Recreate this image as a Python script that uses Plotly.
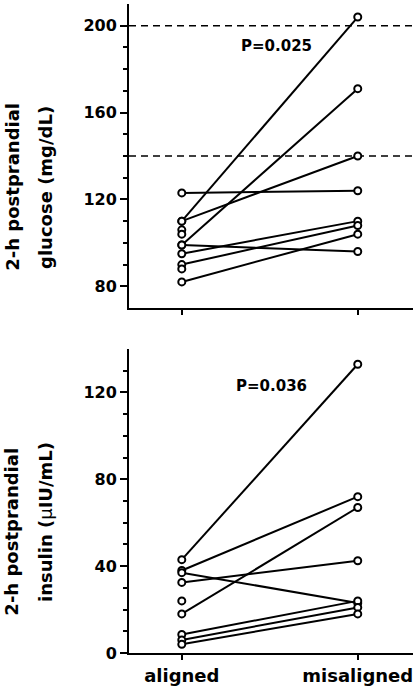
import plotly.graph_objects as go

# ---- data ----
groups = ["aligned", "misaligned"]

glucose_aligned = [123, 110, 110, 99, 99, 95, 90, 82, 106, 104, 88]
glucose_misaligned = [124, 204, 140, 171, 96, 110, 108, 104, None, None, None]

insulin_aligned = [43, 38, 37, 32.5, 18, 8.5, 6, 4, 24]
insulin_misaligned = [133, 72, 23, 42.5, 67, 24, 21, 18, None]

glucose_thresholds = [200, 140]
p_glucose = "P=0.025"
p_insulin = "P=0.036"

glucose_ticks = [80, 120, 160, 200]
glucose_minor = [90, 100, 110, 130, 140, 150, 170, 180, 190]
insulin_ticks = [0, 40, 80, 120]
insulin_minor = [10, 20, 30, 50, 60, 70, 90, 100, 110, 130]

FONT = "DejaVu Sans"


def pair_lines(a_vals, m_vals):
    xs, ys = [], []
    for a, m in zip(a_vals, m_vals):
        if a is None or m is None:
            continue
        xs += [0, 1, None]
        ys += [a, m, None]
    return xs, ys


def points(a_vals, m_vals):
    xs, ys = [], []
    for v in a_vals:
        if v is not None:
            xs.append(0)
            ys.append(v)
    for v in m_vals:
        if v is not None:
            xs.append(1)
            ys.append(v)
    return xs, ys


fig = go.Figure()

for (a_vals, m_vals, xa, ya) in [
    (glucose_aligned, glucose_misaligned, "x", "y"),
    (insulin_aligned, insulin_misaligned, "x2", "y2"),
]:
    lx, ly = pair_lines(a_vals, m_vals)
    fig.add_trace(go.Scatter(x=lx, y=ly, mode="lines",
                             line=dict(color="black", width=2),
                             xaxis=xa, yaxis=ya, showlegend=False,
                             hoverinfo="skip"))
    px, py = points(a_vals, m_vals)
    fig.add_trace(go.Scatter(x=px, y=py, mode="markers",
                             marker=dict(symbol="circle", size=7, color="white",
                                         line=dict(color="black", width=2)),
                             xaxis=xa, yaxis=ya, showlegend=False,
                             cliponaxis=False))

for t in glucose_thresholds:
    fig.add_shape(type="line", xref="x domain", yref="y", x0=0, x1=1, y0=t, y1=t,
                  line=dict(color="black", width=1.5, dash="7px,5px"), layer="below")

xrange = [-0.30, 1.314]
axis_common = dict(showline=True, linecolor="black", linewidth=2, ticks="outside",
                   tickcolor="black", tickwidth=2, showgrid=False, zeroline=False)

fig.update_layout(
    width=416, height=688,
    margin=dict(l=129, r=3, t=4, b=35),
    paper_bgcolor="white", plot_bgcolor="white",
    font=dict(family=FONT, color="black"),
    xaxis=dict(domain=[0, 1], anchor="y", range=xrange, tickvals=[0, 1],
               ticktext=groups, showticklabels=False, ticklen=5, **axis_common),
    yaxis=dict(domain=[0.5316, 1], anchor="x", range=[70, 210], tickvals=glucose_ticks,
               ticklen=7, tickfont=dict(size=16, family=FONT, weight="bold"),
               minor=dict(tickvals=glucose_minor, ticklen=4, tickwidth=1.5,
                          tickcolor="black", ticks="outside"),
               **axis_common),
    xaxis2=dict(domain=[0, 1], anchor="y2", range=xrange, tickvals=[0, 1],
                ticktext=groups, ticklen=5,
                tickfont=dict(size=18, family=FONT, weight="bold"), **axis_common),
    yaxis2=dict(domain=[0, 0.4684], anchor="x2", range=[0, 140], tickvals=insulin_ticks,
                ticklen=7, tickfont=dict(size=16, family=FONT, weight="bold"),
                minor=dict(tickvals=insulin_minor, ticklen=4, tickwidth=1.5,
                           tickcolor="black", ticks="outside"),
                **axis_common),
)

ann_font = dict(family=FONT, size=15, color="black", weight="bold")
title_font = dict(family=FONT, size=18, color="black", weight="bold")

annotations = [
    dict(text=p_glucose, x=0.521, y=0.936, font=ann_font),
    dict(text=p_insulin, x=0.502, y=0.411, font=ann_font),
    dict(text="2-h postprandial", x=-0.413, y=0.718, textangle=-90, font=title_font),
    dict(text="glucose (mg/dL)", x=-0.296, y=0.718, textangle=-90, font=title_font),
    dict(text="2-h postprandial", x=-0.412, y=0.187, textangle=-90, font=title_font),
    dict(text="insulin (<span style='font-weight:normal'>μ</span>IU/mL)", x=-0.292, y=0.202,
         textangle=-90, font=title_font),
]
for a in annotations:
    fig.add_annotation(xref="paper", yref="paper", showarrow=False,
                       xanchor="center", yanchor="middle", **a)

fig.write_html("out.html")
